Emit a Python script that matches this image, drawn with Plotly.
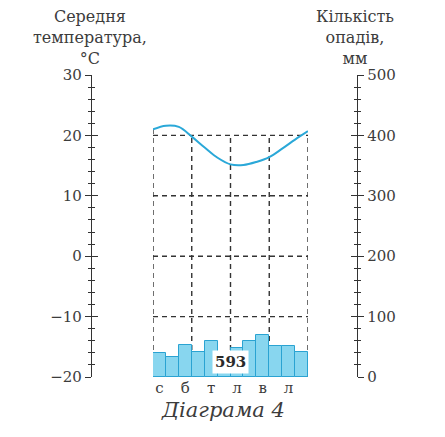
import plotly.graph_objects as go

# ---------------- data ----------------
month_labels = ["с", "б", "т", "л", "в", "л"]          # every second month (Jan, Mar, May, Jul, Sep, Nov)
month_label_idx = [0, 2, 4, 6, 8, 10]
precip = [40, 33, 53, 42, 60, 42, 48, 60, 70, 52, 52, 41]     # mm per month
# temperature read at the 13 month boundaries (start of Jan ... end of Dec)
temp_boundary = [21.0, 21.6, 21.4, 19.8, 18.0, 16.3, 15.2, 15.1, 15.6, 16.4, 17.8, 19.3, 20.7]
temp_ticks = [-20, -10, 0, 10, 20, 30]
precip_ticks = [0, 100, 200, 300, 400, 500]

W, H = 445, 437
TXT = "#3c3c3c"
AX = "#333333"
SERIF = "DejaVu Serif"

xdom = [153 / W, 308 / W]
ydom = [1 - 377 / H, 1 - 75 / H]
left_pos = 91 / W
right_pos = 357 / W

fig = go.Figure()

fig.add_trace(go.Bar(
    x=[i + 0.5 for i in range(len(precip))], y=precip, width=1.0,
    marker=dict(color="#88d6ef", line=dict(color="#2aa3d2", width=1)),
    yaxis="y2", showlegend=False, hoverinfo="skip"))

fig.add_trace(go.Scatter(
    x=list(range(len(temp_boundary))), y=temp_boundary, mode="lines",
    line=dict(color="#2aa8d8", width=2, shape="spline", smoothing=1.0),
    showlegend=False, hoverinfo="skip"))

# dummy traces so the overlay axes (for ticks crossing the axis) get drawn
fig.add_trace(go.Scatter(x=[None], y=[None], yaxis="y3", showlegend=False))
fig.add_trace(go.Scatter(x=[None], y=[None], yaxis="y4", showlegend=False))

# dashed grid (frame -20..20 °C, every 3 months)
dash = dict(color="#333333", width=1.4, dash="5px,4px")
for t in [-10, 0, 10, 20]:
    fig.add_shape(type="line", xref="x", yref="y", x0=0, x1=12, y0=t, y1=t,
                  line=dash, layer="below")
for m in [0, 3, 6, 9, 12]:
    fig.add_shape(type="line", xref="x", yref="y", x0=m, x1=m, y0=-20,
                  y1=temp_boundary[0] if m == 0 else 20,
                  line=dash, layer="below")

common_y = dict(domain=ydom, anchor="free", showgrid=False, zeroline=False,
                automargin=False,
                showline=True, linecolor=AX, linewidth=1.3,
                tickcolor=AX, tickwidth=1.3, ticklen=6)

fig.update_layout(
    width=W, height=H, margin=dict(l=0, r=0, t=0, b=0, autoexpand=False),
    paper_bgcolor="white", plot_bgcolor="rgba(0,0,0,0)",
    bargap=0,
    xaxis=dict(domain=xdom, range=[0, 12], showgrid=False, zeroline=False,
               automargin=False,
               showline=False, ticks="",
               tickvals=[i + 0.5 for i in month_label_idx], ticktext=month_labels,
               tickfont=dict(family=SERIF, size=15, color=TXT)),
    yaxis=dict(common_y, range=[-20, 30], position=left_pos, side="left",
               ticks="outside", tickvals=temp_ticks,
               minor=dict(ticks="outside", dtick=2, ticklen=3, tickcolor=AX, tickwidth=1.1),
               tickfont=dict(family=SERIF, size=15, color=TXT)),
    yaxis3=dict(common_y, range=[-20, 30], position=left_pos, overlaying="y",
                side="left", ticks="inside", tickvals=temp_ticks, showticklabels=False,
                minor=dict(ticks="inside", dtick=2, ticklen=3, tickcolor=AX, tickwidth=1.1)),
    yaxis2=dict(common_y, range=[0, 500], position=right_pos, overlaying="y",
                side="right", ticks="outside", tickvals=precip_ticks,
                minor=dict(ticks="outside", dtick=20, ticklen=3, tickcolor=AX, tickwidth=1.1),
                tickfont=dict(family=SERIF, size=15, color=TXT)),
    yaxis4=dict(common_y, range=[0, 500], position=right_pos, overlaying="y",
                side="right", ticks="inside", tickvals=precip_ticks, showticklabels=False,
                minor=dict(ticks="inside", dtick=20, ticklen=3, tickcolor=AX, tickwidth=1.1)),
)

fig.add_annotation(xref="paper", yref="paper", x=90 / W, y=1 - 38 / H,
                   xanchor="center", yanchor="middle",
                   text="Середня<br>температура,<br>°C", showarrow=False,
                   font=dict(family=SERIF, size=16, color=TXT), align="center")
fig.add_annotation(xref="paper", yref="paper", x=355 / W, y=1 - 37 / H,
                   xanchor="center", yanchor="middle",
                   text="Кількість<br>опадів,<br>мм", showarrow=False,
                   font=dict(family=SERIF, size=16, color=TXT), align="center")
fig.add_annotation(xref="x", yref="y2", x=6, y=25, text="<b>%d</b>" % sum(precip),
                   xanchor="center", yanchor="middle",
                   showarrow=False, bgcolor="white", borderpad=2,
                   font=dict(family=SERIF, size=15, color="#2a2a2a"))
fig.add_annotation(xref="paper", yref="paper", x=223 / W, y=1 - 410 / H,
                   xanchor="center", yanchor="middle",
                   text="<i>Діаграма 4</i>", showarrow=False,
                   font=dict(family=SERIF, size=21, color=TXT))

fig.write_html("out.html")
